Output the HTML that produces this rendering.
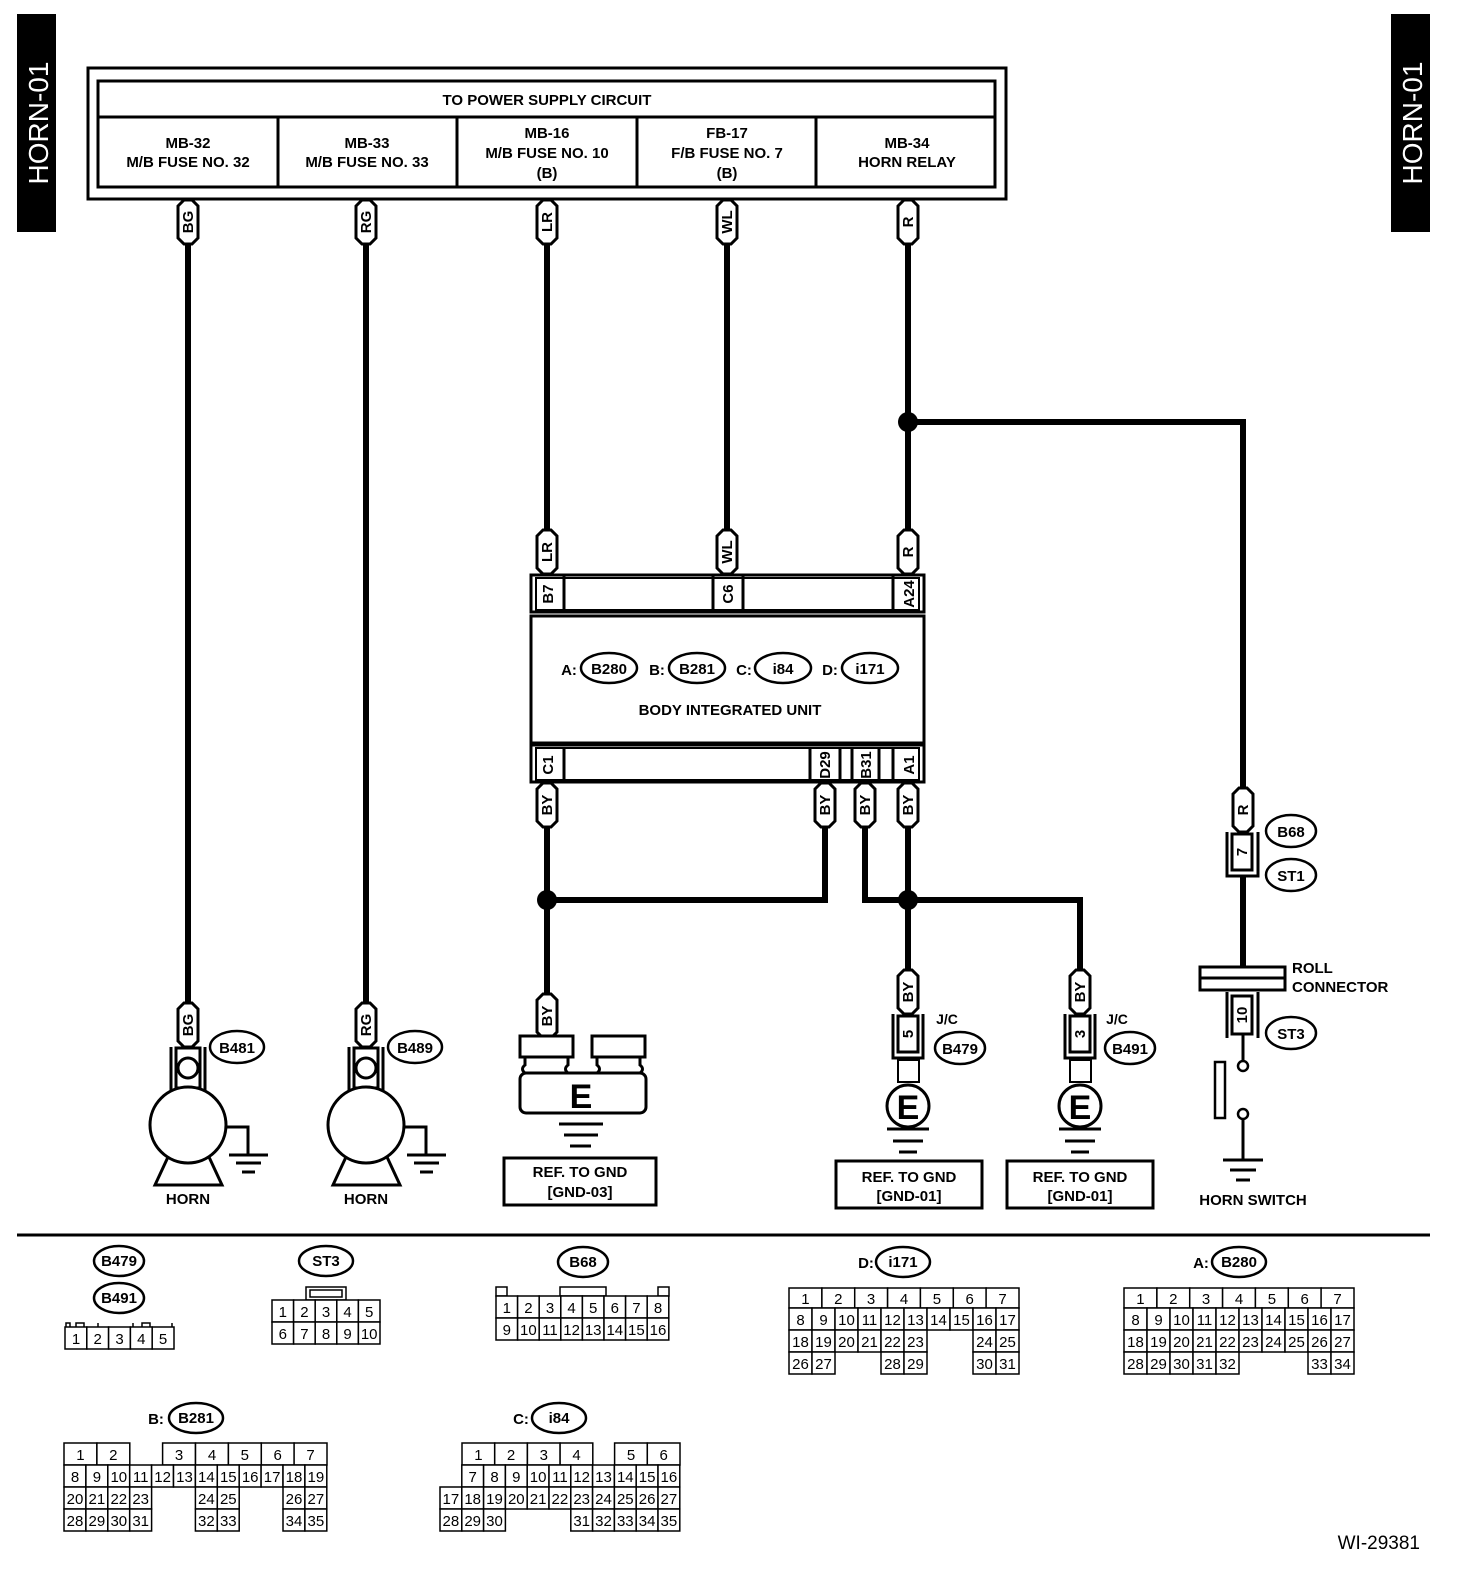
<!DOCTYPE html>
<html><head><meta charset="utf-8"><style>
html,body{margin:0;padding:0;background:#fff}
svg{display:block}
text{font-family:"Liberation Sans",sans-serif;font-weight:bold;fill:#000}
.t{font-size:15px;text-anchor:middle}
.w{stroke:#000;stroke-width:6;fill:none}
.l{stroke:#000;stroke-width:3;fill:none}
.p use{fill:#fff;stroke:#000;stroke-width:3}
.p text{font-size:15px;text-anchor:middle}
.c rect{fill:#fff;stroke:#000;stroke-width:1.5}
.c text{font-size:15px;font-weight:normal;text-anchor:middle}
.e{fill:#fff;stroke:#000;stroke-width:2.5}
</style></head><body>
<svg width="1472" height="1584" viewBox="0 0 1472 1584" xmlns="http://www.w3.org/2000/svg">
<defs>
<polygon id="pg" points="-10,-16 -4,-22 4,-22 10,-16 10,16 4,22 -4,22 -10,16"/>
</defs>
<!-- side tabs -->
<rect x="17" y="14" width="39" height="218" fill="#000"/>
<text transform="translate(48,123) rotate(-90)" style="font-size:28px;font-weight:normal;fill:#fff;text-anchor:middle">HORN-01</text>
<rect x="1391" y="14" width="39" height="218" fill="#000"/>
<text transform="translate(1422,123) rotate(-90)" style="font-size:28px;font-weight:normal;fill:#fff;text-anchor:middle">HORN-01</text>

<!-- header -->
<rect x="88" y="68" width="918" height="131" fill="#fff" stroke="#000" stroke-width="3"/>
<rect x="98" y="81" width="897" height="106" fill="#fff" stroke="#000" stroke-width="3"/>
<line class="l" x1="98" y1="117" x2="995" y2="117"/>
<line class="l" x1="278" y1="117" x2="278" y2="187"/>
<line class="l" x1="457" y1="117" x2="457" y2="187"/>
<line class="l" x1="637" y1="117" x2="637" y2="187"/>
<line class="l" x1="816" y1="117" x2="816" y2="187"/>
<text class="t" x="547" y="105">TO POWER SUPPLY CIRCUIT</text>
<text class="t" x="188" y="148">MB-32</text><text class="t" x="188" y="167">M/B FUSE NO. 32</text>
<text class="t" x="367" y="148">MB-33</text><text class="t" x="367" y="167">M/B FUSE NO. 33</text>
<text class="t" x="547" y="138">MB-16</text><text class="t" x="547" y="158">M/B FUSE NO. 10</text><text class="t" x="547" y="178">(B)</text>
<text class="t" x="727" y="138">FB-17</text><text class="t" x="727" y="158">F/B FUSE NO. 7</text><text class="t" x="727" y="178">(B)</text>
<text class="t" x="907" y="148">MB-34</text><text class="t" x="907" y="167">HORN RELAY</text>

<!-- wires -->
<path class="w" d="M188 199V1005"/>
<path class="w" d="M366 199V1005"/>
<path class="w" d="M547 199V575"/>
<path class="w" d="M727 199V575"/>
<path class="w" d="M908 199V575"/>
<path class="w" d="M908 422H1243V790"/>
<circle cx="908" cy="422" r="10"/>
<path class="w" d="M547 782V998"/>
<path class="w" d="M547 900H825V782"/>
<circle cx="547" cy="900" r="10"/>
<path class="w" d="M865 782V900H1080V972"/>
<path class="w" d="M908 782V972"/>
<circle cx="908" cy="900" r="10"/>
<path class="w" d="M1243 876V968"/>

<!-- pills top -->
<g class="p" transform="translate(188,222)"><use href="#pg"/><text transform="rotate(-90)" y="5">BG</text></g>
<g class="p" transform="translate(366,222)"><use href="#pg"/><text transform="rotate(-90)" y="5">RG</text></g>
<g class="p" transform="translate(547,222)"><use href="#pg"/><text transform="rotate(-90)" y="5">LR</text></g>
<g class="p" transform="translate(727,222)"><use href="#pg"/><text transform="rotate(-90)" y="5">WL</text></g>
<g class="p" transform="translate(908,222)"><use href="#pg"/><text transform="rotate(-90)" y="5">R</text></g>
<g class="p" transform="translate(547,552)"><use href="#pg"/><text transform="rotate(-90)" y="5">LR</text></g>
<g class="p" transform="translate(727,552)"><use href="#pg"/><text transform="rotate(-90)" y="5">WL</text></g>
<g class="p" transform="translate(908,552)"><use href="#pg"/><text transform="rotate(-90)" y="5">R</text></g>

<!-- BIU -->
<rect x="531" y="575" width="393" height="37" fill="#fff" stroke="#000" stroke-width="3"/>
<line class="l" x1="564" y1="575" x2="564" y2="612"/>
<line class="l" x1="713" y1="575" x2="713" y2="612"/><line class="l" x1="743" y1="575" x2="743" y2="612"/>
<line class="l" x1="893" y1="575" x2="893" y2="612"/>
<rect x="536" y="578" width="383" height="32" fill="none" stroke="#000" stroke-width="2"/>
<text class="t" transform="translate(553,594) rotate(-90)">B7</text>
<text class="t" transform="translate(733,594) rotate(-90)">C6</text>
<text class="t" transform="translate(914,594) rotate(-90)">A24</text>
<rect x="531" y="616" width="393" height="127" fill="#fff" stroke="#000" stroke-width="3"/>
<text class="t" x="569" y="675">A:</text>
<ellipse class="e" cx="609" cy="668" rx="28" ry="15"/><text class="t" x="609" y="674">B280</text>
<text class="t" x="657" y="675">B:</text>
<ellipse class="e" cx="697" cy="668" rx="28" ry="15"/><text class="t" x="697" y="674">B281</text>
<text class="t" x="744" y="675">C:</text>
<ellipse class="e" cx="783" cy="668" rx="28" ry="15"/><text class="t" x="783" y="674">i84</text>
<text class="t" x="830" y="675">D:</text>
<ellipse class="e" cx="870" cy="668" rx="28" ry="15"/><text class="t" x="870" y="674">i171</text>
<text class="t" x="730" y="715">BODY INTEGRATED UNIT</text>
<rect x="531" y="745" width="393" height="37" fill="#fff" stroke="#000" stroke-width="3"/>
<rect x="536" y="748" width="383" height="32" fill="none" stroke="#000" stroke-width="2"/>
<line class="l" x1="564" y1="748" x2="564" y2="782"/>
<line class="l" x1="810" y1="748" x2="810" y2="782"/><line class="l" x1="840" y1="748" x2="840" y2="782"/>
<line class="l" x1="852" y1="748" x2="852" y2="782"/><line class="l" x1="879" y1="748" x2="879" y2="782"/>
<line class="l" x1="893" y1="748" x2="893" y2="782"/>
<text class="t" transform="translate(553,765) rotate(-90)">C1</text>
<text class="t" transform="translate(830,765) rotate(-90)">D29</text>
<text class="t" transform="translate(871,765) rotate(-90)">B31</text>
<text class="t" transform="translate(914,765) rotate(-90)">A1</text>
<g class="p" transform="translate(547,805)"><use href="#pg"/><text transform="rotate(-90)" y="5">BY</text></g>
<g class="p" transform="translate(825,805)"><use href="#pg"/><text transform="rotate(-90)" y="5">BY</text></g>
<g class="p" transform="translate(865,805)"><use href="#pg"/><text transform="rotate(-90)" y="5">BY</text></g>
<g class="p" transform="translate(908,805)"><use href="#pg"/><text transform="rotate(-90)" y="5">BY</text></g>

<!-- horns -->
<g>
<path class="l" d="M171 1047V1100M205 1047V1100"/>
<rect x="176" y="1048" width="24" height="40" fill="#fff" stroke="#000" stroke-width="3"/>
<circle cx="188" cy="1068" r="10" fill="#fff" stroke="#000" stroke-width="3"/>
<circle cx="188" cy="1125" r="38" fill="#fff" stroke="#000" stroke-width="3"/>
<path class="l" d="M168 1157L155 1185H222L209 1157"/>
<path class="l" d="M225 1127H248V1155"/>
<path class="l" d="M229 1155H268M236 1163H261M242 1172H255"/>
</g>
<g class="p" transform="translate(188,1025)"><use href="#pg"/><text transform="rotate(-90)" y="5">BG</text></g>
<ellipse class="e" cx="237" cy="1047" rx="27" ry="16"/><text class="t" x="237" y="1053">B481</text>
<text class="t" x="188" y="1204">HORN</text>
<g transform="translate(178,0)">
<path class="l" d="M171 1047V1100M205 1047V1100"/>
<rect x="176" y="1048" width="24" height="40" fill="#fff" stroke="#000" stroke-width="3"/>
<circle cx="188" cy="1068" r="10" fill="#fff" stroke="#000" stroke-width="3"/>
<circle cx="188" cy="1125" r="38" fill="#fff" stroke="#000" stroke-width="3"/>
<path class="l" d="M168 1157L155 1185H222L209 1157"/>
<path class="l" d="M225 1127H248V1155"/>
<path class="l" d="M229 1155H268M236 1163H261M242 1172H255"/>
</g>
<g class="p" transform="translate(366,1025)"><use href="#pg"/><text transform="rotate(-90)" y="5">RG</text></g>
<ellipse class="e" cx="415" cy="1047" rx="27" ry="16"/><text class="t" x="415" y="1053">B489</text>
<text class="t" x="366" y="1204">HORN</text>

<!-- GND-03 -->
<g class="p" transform="translate(547,1016)"><use href="#pg"/><text transform="rotate(-90)" y="5">BY</text></g>
<rect x="520" y="1036" width="53" height="21" fill="#fff" stroke="#000" stroke-width="3"/>
<rect x="592" y="1036" width="53" height="21" fill="#fff" stroke="#000" stroke-width="3"/>
<path class="l" d="M525 1057v8q-5 4 0 8M568 1057v8q-5 4 0 8M597 1057v8q5 4 0 8M640 1057v8q5 4 0 8"/>
<rect x="520" y="1073" width="126" height="40" rx="6" fill="#fff" stroke="#000" stroke-width="3"/>
<text x="581" y="1108" style="font-size:34px;text-anchor:middle">E</text>
<path class="l" d="M559 1124H603M564 1135H598M570 1146H591"/>
<rect x="504" y="1158" width="152" height="47" fill="#fff" stroke="#000" stroke-width="3"/>
<text class="t" x="580" y="1177">REF. TO GND</text><text class="t" x="580" y="1197">[GND-03]</text>

<!-- J/C grounds -->
<g>
<g class="p" transform="translate(908,992)"><use href="#pg"/><text transform="rotate(-90)" y="5">BY</text></g>
<path class="l" d="M893 1014V1058H923V1014"/>
<rect x="898" y="1016" width="20" height="36" fill="#fff" stroke="#000" stroke-width="3"/>
<text class="t" transform="translate(913,1034) rotate(-90)">5</text>
<rect x="898" y="1060" width="21" height="22" fill="#fff" stroke="#000" stroke-width="2"/>
<circle cx="908" cy="1106" r="21" fill="#fff" stroke="#000" stroke-width="3"/>
<text x="908" y="1119" style="font-size:34px;text-anchor:middle">E</text>
<path class="l" d="M887 1129H929M893 1141H923M899 1152H917"/>
<text class="t" x="947" y="1024" style="font-size:14px">J/C</text>
<ellipse class="e" cx="960" cy="1048" rx="25" ry="16"/><text class="t" x="960" y="1054">B479</text>
<rect x="836" y="1161" width="146" height="47" fill="#fff" stroke="#000" stroke-width="3"/>
<text class="t" x="909" y="1182">REF. TO GND</text><text class="t" x="909" y="1201">[GND-01]</text>
</g>
<g>
<g class="p" transform="translate(1080,992)"><use href="#pg"/><text transform="rotate(-90)" y="5">BY</text></g>
<path class="l" d="M1065 1014V1058H1095V1014"/>
<rect x="1070" y="1016" width="20" height="36" fill="#fff" stroke="#000" stroke-width="3"/>
<text class="t" transform="translate(1085,1034) rotate(-90)">3</text>
<rect x="1070" y="1060" width="21" height="22" fill="#fff" stroke="#000" stroke-width="2"/>
<circle cx="1080" cy="1106" r="21" fill="#fff" stroke="#000" stroke-width="3"/>
<text x="1080" y="1119" style="font-size:34px;text-anchor:middle">E</text>
<path class="l" d="M1059 1129H1101M1065 1141H1095M1071 1152H1089"/>
<text class="t" x="1117" y="1024" style="font-size:14px">J/C</text>
<ellipse class="e" cx="1130" cy="1048" rx="25" ry="16"/><text class="t" x="1130" y="1054">B491</text>
<rect x="1007" y="1161" width="146" height="47" fill="#fff" stroke="#000" stroke-width="3"/>
<text class="t" x="1080" y="1182">REF. TO GND</text><text class="t" x="1080" y="1201">[GND-01]</text>
</g>

<!-- horn switch branch -->
<g class="p" transform="translate(1243,810)"><use href="#pg"/><text transform="rotate(-90)" y="5">R</text></g>
<path class="l" d="M1227 832V876H1258V832"/>
<rect x="1232" y="834" width="20" height="36" fill="#fff" stroke="#000" stroke-width="3"/>
<text class="t" transform="translate(1247,852) rotate(-90)">7</text>
<ellipse class="e" cx="1291" cy="831" rx="25" ry="16"/><text class="t" x="1291" y="837">B68</text>
<ellipse class="e" cx="1291" cy="875" rx="25" ry="16"/><text class="t" x="1291" y="881">ST1</text>
<rect x="1200" y="967" width="85" height="23" fill="#fff" stroke="#000" stroke-width="3"/>
<line class="l" x1="1200" y1="978" x2="1285" y2="978"/>
<text x="1292" y="973" style="font-size:15px">ROLL</text>
<text x="1292" y="992" style="font-size:15px">CONNECTOR</text>
<path class="l" d="M1227 992V1038M1258 992V1038"/>
<rect x="1232" y="996" width="20" height="38" fill="#fff" stroke="#000" stroke-width="3"/>
<text class="t" transform="translate(1247,1015) rotate(-90)">10</text>
<ellipse class="e" cx="1291" cy="1033" rx="25" ry="16"/><text class="t" x="1291" y="1039">ST3</text>
<path class="l" d="M1243 1034V1062"/>
<circle cx="1243" cy="1066" r="5" fill="#fff" stroke="#000" stroke-width="2.5"/>
<rect x="1215" y="1062" width="10" height="56" fill="#fff" stroke="#000" stroke-width="2.5"/>
<circle cx="1243" cy="1114" r="5" fill="#fff" stroke="#000" stroke-width="2.5"/>
<path class="l" d="M1243 1119V1160M1223 1160H1263M1230 1170H1256M1236 1180H1250"/>
<text class="t" x="1253" y="1205">HORN SWITCH</text>

<!-- separator -->
<line x1="17" y1="1235" x2="1430" y2="1235" stroke="#000" stroke-width="3"/>

<!-- B479/B491 -->
<ellipse class="e" cx="119" cy="1261" rx="25" ry="15"/><text class="t" x="119" y="1266">B479</text>
<ellipse class="e" cx="119" cy="1298" rx="25" ry="15"/><text class="t" x="119" y="1303">B491</text>
<g class="c">
<path d="M66 1327v-4h4v4M76 1327v-4h8v4M98 1327v-4M133 1327v-4M142 1327v-4h8v4M172 1327v-4" stroke="#000" fill="none" stroke-width="1.5"/>
<rect x="65" y="1327" width="21.8" height="22"/><rect x="86.8" y="1327" width="21.8" height="22"/><rect x="108.6" y="1327" width="21.8" height="22"/><rect x="130.4" y="1327" width="21.8" height="22"/><rect x="152.2" y="1327" width="21.8" height="22"/>
<text x="76" y="1344">1</text><text x="97.7" y="1344">2</text><text x="119.5" y="1344">3</text><text x="141.3" y="1344">4</text><text x="163.1" y="1344">5</text>
</g>

<!-- ST3 -->
<ellipse class="e" cx="326" cy="1261" rx="27" ry="15"/><text class="t" x="326" y="1266">ST3</text>
<g class="c">
<rect x="306" y="1287" width="40" height="13"/><rect x="310" y="1290" width="32" height="7"/>
<rect x="272" y="1300" width="21.6" height="22"/><rect x="293.6" y="1300" width="21.6" height="22"/><rect x="315.2" y="1300" width="21.6" height="22"/><rect x="336.8" y="1300" width="21.6" height="22"/><rect x="358.4" y="1300" width="21.6" height="22"/>
<rect x="272" y="1322" width="21.6" height="22"/><rect x="293.6" y="1322" width="21.6" height="22"/><rect x="315.2" y="1322" width="21.6" height="22"/><rect x="336.8" y="1322" width="21.6" height="22"/><rect x="358.4" y="1322" width="21.6" height="22"/>
<text x="282.8" y="1317">1</text><text x="304.4" y="1317">2</text><text x="326" y="1317">3</text><text x="347.6" y="1317">4</text><text x="369.2" y="1317">5</text>
<text x="282.8" y="1339">6</text><text x="304.4" y="1339">7</text><text x="326" y="1339">8</text><text x="347.6" y="1339">9</text><text x="369.2" y="1339">10</text>
</g>

<!-- B68 -->
<ellipse class="e" cx="583" cy="1262" rx="25" ry="15"/><text class="t" x="583" y="1267">B68</text>
<g class="c">
<rect x="496" y="1287" width="11" height="9"/><rect x="560" y="1287" width="46" height="9"/><rect x="658" y="1287" width="11" height="9"/>
<rect x="496" y="1296" width="21.6" height="22"/><rect x="517.6" y="1296" width="21.6" height="22"/><rect x="539.2" y="1296" width="21.6" height="22"/><rect x="560.8" y="1296" width="21.6" height="22"/><rect x="582.4" y="1296" width="21.6" height="22"/><rect x="604" y="1296" width="21.6" height="22"/><rect x="625.6" y="1296" width="21.6" height="22"/><rect x="647.2" y="1296" width="21.6" height="22"/>
<rect x="496" y="1318" width="21.6" height="22"/><rect x="517.6" y="1318" width="21.6" height="22"/><rect x="539.2" y="1318" width="21.6" height="22"/><rect x="560.8" y="1318" width="21.6" height="22"/><rect x="582.4" y="1318" width="21.6" height="22"/><rect x="604" y="1318" width="21.6" height="22"/><rect x="625.6" y="1318" width="21.6" height="22"/><rect x="647.2" y="1318" width="21.6" height="22"/>
<text x="506.8" y="1313">1</text><text x="528.4" y="1313">2</text><text x="550" y="1313">3</text><text x="571.6" y="1313">4</text><text x="593.2" y="1313">5</text><text x="614.8" y="1313">6</text><text x="636.4" y="1313">7</text><text x="658" y="1313">8</text>
<text x="506.8" y="1335">9</text><text x="528.4" y="1335">10</text><text x="550" y="1335">11</text><text x="571.6" y="1335">12</text><text x="593.2" y="1335">13</text><text x="614.8" y="1335">14</text><text x="636.4" y="1335">15</text><text x="658" y="1335">16</text>
</g>

<!-- D: i171 -->
<text class="t" x="866" y="1268">D:</text>
<ellipse class="e" cx="903" cy="1262" rx="27" ry="15"/><text class="t" x="903" y="1267">i171</text>
<g class="c">
<rect x="789" y="1288" width="32.9" height="20"/><rect x="821.9" y="1288" width="32.9" height="20"/><rect x="854.7" y="1288" width="32.9" height="20"/><rect x="887.6" y="1288" width="32.9" height="20"/><rect x="920.4" y="1288" width="32.9" height="20"/><rect x="953.3" y="1288" width="32.9" height="20"/><rect x="986.1" y="1288" width="32.9" height="20"/>
<text x="805.4" y="1304">1</text><text x="838.3" y="1304">2</text><text x="871.1" y="1304">3</text><text x="904" y="1304">4</text><text x="936.9" y="1304">5</text><text x="969.7" y="1304">6</text><text x="1002.6" y="1304">7</text>
<rect x="789" y="1308" width="23" height="22"/><rect x="812" y="1308" width="23" height="22"/><rect x="835" y="1308" width="23" height="22"/><rect x="858" y="1308" width="23" height="22"/><rect x="881" y="1308" width="23" height="22"/><rect x="904" y="1308" width="23" height="22"/><rect x="927" y="1308" width="23" height="22"/><rect x="950" y="1308" width="23" height="22"/><rect x="973" y="1308" width="23" height="22"/><rect x="996" y="1308" width="23" height="22"/>
<text x="800.5" y="1325">8</text><text x="823.5" y="1325">9</text><text x="846.5" y="1325">10</text><text x="869.5" y="1325">11</text><text x="892.5" y="1325">12</text><text x="915.5" y="1325">13</text><text x="938.5" y="1325">14</text><text x="961.5" y="1325">15</text><text x="984.5" y="1325">16</text><text x="1007.5" y="1325">17</text>
<rect x="789" y="1330" width="23" height="22"/><rect x="812" y="1330" width="23" height="22"/><rect x="835" y="1330" width="23" height="22"/><rect x="858" y="1330" width="23" height="22"/><rect x="881" y="1330" width="23" height="22"/><rect x="904" y="1330" width="23" height="22"/><rect x="973" y="1330" width="23" height="22"/><rect x="996" y="1330" width="23" height="22"/>
<text x="800.5" y="1347">18</text><text x="823.5" y="1347">19</text><text x="846.5" y="1347">20</text><text x="869.5" y="1347">21</text><text x="892.5" y="1347">22</text><text x="915.5" y="1347">23</text><text x="984.5" y="1347">24</text><text x="1007.5" y="1347">25</text>
<rect x="789" y="1352" width="23" height="22"/><rect x="812" y="1352" width="23" height="22"/><rect x="881" y="1352" width="23" height="22"/><rect x="904" y="1352" width="23" height="22"/><rect x="973" y="1352" width="23" height="22"/><rect x="996" y="1352" width="23" height="22"/>
<text x="800.5" y="1369">26</text><text x="823.5" y="1369">27</text><text x="892.5" y="1369">28</text><text x="915.5" y="1369">29</text><text x="984.5" y="1369">30</text><text x="1007.5" y="1369">31</text>
</g>

<!-- A: B280 -->
<text class="t" x="1201" y="1268">A:</text>
<ellipse class="e" cx="1239" cy="1262" rx="27" ry="15"/><text class="t" x="1239" y="1267">B280</text>
<g class="c">
<rect x="1124" y="1288" width="32.9" height="20"/><rect x="1156.9" y="1288" width="32.9" height="20"/><rect x="1189.7" y="1288" width="32.9" height="20"/><rect x="1222.6" y="1288" width="32.9" height="20"/><rect x="1255.4" y="1288" width="32.9" height="20"/><rect x="1288.3" y="1288" width="32.9" height="20"/><rect x="1321.1" y="1288" width="32.9" height="20"/>
<text x="1140.4" y="1304">1</text><text x="1173.3" y="1304">2</text><text x="1206.1" y="1304">3</text><text x="1239" y="1304">4</text><text x="1271.9" y="1304">5</text><text x="1304.7" y="1304">6</text><text x="1337.6" y="1304">7</text>
<rect x="1124" y="1308" width="23" height="22"/><rect x="1147" y="1308" width="23" height="22"/><rect x="1170" y="1308" width="23" height="22"/><rect x="1193" y="1308" width="23" height="22"/><rect x="1216" y="1308" width="23" height="22"/><rect x="1239" y="1308" width="23" height="22"/><rect x="1262" y="1308" width="23" height="22"/><rect x="1285" y="1308" width="23" height="22"/><rect x="1308" y="1308" width="23" height="22"/><rect x="1331" y="1308" width="23" height="22"/>
<text x="1135.5" y="1325">8</text><text x="1158.5" y="1325">9</text><text x="1181.5" y="1325">10</text><text x="1204.5" y="1325">11</text><text x="1227.5" y="1325">12</text><text x="1250.5" y="1325">13</text><text x="1273.5" y="1325">14</text><text x="1296.5" y="1325">15</text><text x="1319.5" y="1325">16</text><text x="1342.5" y="1325">17</text>
<rect x="1124" y="1330" width="23" height="22"/><rect x="1147" y="1330" width="23" height="22"/><rect x="1170" y="1330" width="23" height="22"/><rect x="1193" y="1330" width="23" height="22"/><rect x="1216" y="1330" width="23" height="22"/><rect x="1239" y="1330" width="23" height="22"/><rect x="1262" y="1330" width="23" height="22"/><rect x="1285" y="1330" width="23" height="22"/><rect x="1308" y="1330" width="23" height="22"/><rect x="1331" y="1330" width="23" height="22"/>
<text x="1135.5" y="1347">18</text><text x="1158.5" y="1347">19</text><text x="1181.5" y="1347">20</text><text x="1204.5" y="1347">21</text><text x="1227.5" y="1347">22</text><text x="1250.5" y="1347">23</text><text x="1273.5" y="1347">24</text><text x="1296.5" y="1347">25</text><text x="1319.5" y="1347">26</text><text x="1342.5" y="1347">27</text>
<rect x="1124" y="1352" width="23" height="22"/><rect x="1147" y="1352" width="23" height="22"/><rect x="1170" y="1352" width="23" height="22"/><rect x="1193" y="1352" width="23" height="22"/><rect x="1216" y="1352" width="23" height="22"/><rect x="1308" y="1352" width="23" height="22"/><rect x="1331" y="1352" width="23" height="22"/>
<text x="1135.5" y="1369">28</text><text x="1158.5" y="1369">29</text><text x="1181.5" y="1369">30</text><text x="1204.5" y="1369">31</text><text x="1227.5" y="1369">32</text><text x="1319.5" y="1369">33</text><text x="1342.5" y="1369">34</text>
</g>

<!-- B: B281 -->
<text class="t" x="156" y="1424">B:</text>
<ellipse class="e" cx="196" cy="1418" rx="27" ry="15"/><text class="t" x="196" y="1423">B281</text>
<g class="c">
<rect x="64" y="1443" width="32.9" height="22"/><rect x="96.9" y="1443" width="32.9" height="22"/><rect x="162.6" y="1443" width="32.9" height="22"/><rect x="195.5" y="1443" width="32.9" height="22"/><rect x="228.4" y="1443" width="32.9" height="22"/><rect x="261.3" y="1443" width="32.9" height="22"/><rect x="294.1" y="1443" width="32.9" height="22"/>
<text x="80.4" y="1460">1</text><text x="113.3" y="1460">2</text><text x="179" y="1460">3</text><text x="212" y="1460">4</text><text x="244.8" y="1460">5</text><text x="277.7" y="1460">6</text><text x="310.6" y="1460">7</text>
<rect x="64" y="1465" width="21.9" height="22"/><rect x="85.9" y="1465" width="21.9" height="22"/><rect x="107.8" y="1465" width="21.9" height="22"/><rect x="129.7" y="1465" width="21.9" height="22"/><rect x="151.6" y="1465" width="21.9" height="22"/><rect x="173.5" y="1465" width="21.9" height="22"/><rect x="195.4" y="1465" width="21.9" height="22"/><rect x="217.3" y="1465" width="21.9" height="22"/><rect x="239.2" y="1465" width="21.9" height="22"/><rect x="261.1" y="1465" width="21.9" height="22"/><rect x="283" y="1465" width="21.9" height="22"/><rect x="304.9" y="1465" width="21.9" height="22"/>
<text x="75" y="1482">8</text><text x="96.9" y="1482">9</text><text x="118.8" y="1482">10</text><text x="140.7" y="1482">11</text><text x="162.6" y="1482">12</text><text x="184.5" y="1482">13</text><text x="206.4" y="1482">14</text><text x="228.3" y="1482">15</text><text x="250.2" y="1482">16</text><text x="272.1" y="1482">17</text><text x="294" y="1482">18</text><text x="315.9" y="1482">19</text>
<rect x="64" y="1487" width="21.9" height="22"/><rect x="85.9" y="1487" width="21.9" height="22"/><rect x="107.8" y="1487" width="21.9" height="22"/><rect x="129.7" y="1487" width="21.9" height="22"/><rect x="195.4" y="1487" width="21.9" height="22"/><rect x="217.3" y="1487" width="21.9" height="22"/><rect x="283" y="1487" width="21.9" height="22"/><rect x="304.9" y="1487" width="21.9" height="22"/>
<text x="75" y="1504">20</text><text x="96.9" y="1504">21</text><text x="118.8" y="1504">22</text><text x="140.7" y="1504">23</text><text x="206.4" y="1504">24</text><text x="228.3" y="1504">25</text><text x="294" y="1504">26</text><text x="315.9" y="1504">27</text>
<rect x="64" y="1509" width="21.9" height="22"/><rect x="85.9" y="1509" width="21.9" height="22"/><rect x="107.8" y="1509" width="21.9" height="22"/><rect x="129.7" y="1509" width="21.9" height="22"/><rect x="195.4" y="1509" width="21.9" height="22"/><rect x="217.3" y="1509" width="21.9" height="22"/><rect x="283" y="1509" width="21.9" height="22"/><rect x="304.9" y="1509" width="21.9" height="22"/>
<text x="75" y="1526">28</text><text x="96.9" y="1526">29</text><text x="118.8" y="1526">30</text><text x="140.7" y="1526">31</text><text x="206.4" y="1526">32</text><text x="228.3" y="1526">33</text><text x="294" y="1526">34</text><text x="315.9" y="1526">35</text>
</g>

<!-- C: i84 -->
<text class="t" x="521" y="1424">C:</text>
<ellipse class="e" cx="559" cy="1418" rx="27" ry="15"/><text class="t" x="559" y="1423">i84</text>
<g class="c">
<rect x="462" y="1443" width="32.7" height="22"/><rect x="494.7" y="1443" width="32.7" height="22"/><rect x="527.4" y="1443" width="32.7" height="22"/><rect x="560.1" y="1443" width="32.7" height="22"/><rect x="614.6" y="1443" width="32.7" height="22"/><rect x="647.3" y="1443" width="32.7" height="22"/>
<text x="478.4" y="1460">1</text><text x="511" y="1460">2</text><text x="543.8" y="1460">3</text><text x="576.5" y="1460">4</text><text x="631" y="1460">5</text><text x="663.7" y="1460">6</text>
<rect x="461.8" y="1465" width="21.8" height="22"/><rect x="483.6" y="1465" width="21.8" height="22"/><rect x="505.4" y="1465" width="21.8" height="22"/><rect x="527.2" y="1465" width="21.8" height="22"/><rect x="549" y="1465" width="21.8" height="22"/><rect x="570.8" y="1465" width="21.8" height="22"/><rect x="592.6" y="1465" width="21.8" height="22"/><rect x="614.4" y="1465" width="21.8" height="22"/><rect x="636.2" y="1465" width="21.8" height="22"/><rect x="658" y="1465" width="21.8" height="22"/>
<text x="472.7" y="1482">7</text><text x="494.5" y="1482">8</text><text x="516.3" y="1482">9</text><text x="538.1" y="1482">10</text><text x="559.9" y="1482">11</text><text x="581.7" y="1482">12</text><text x="603.5" y="1482">13</text><text x="625.3" y="1482">14</text><text x="647.1" y="1482">15</text><text x="668.9" y="1482">16</text>
<rect x="440" y="1487" width="21.8" height="22"/><rect x="461.8" y="1487" width="21.8" height="22"/><rect x="483.6" y="1487" width="21.8" height="22"/><rect x="505.4" y="1487" width="21.8" height="22"/><rect x="527.2" y="1487" width="21.8" height="22"/><rect x="549" y="1487" width="21.8" height="22"/><rect x="570.8" y="1487" width="21.8" height="22"/><rect x="592.6" y="1487" width="21.8" height="22"/><rect x="614.4" y="1487" width="21.8" height="22"/><rect x="636.2" y="1487" width="21.8" height="22"/><rect x="658" y="1487" width="21.8" height="22"/>
<text x="450.9" y="1504">17</text><text x="472.7" y="1504">18</text><text x="494.5" y="1504">19</text><text x="516.3" y="1504">20</text><text x="538.1" y="1504">21</text><text x="559.9" y="1504">22</text><text x="581.7" y="1504">23</text><text x="603.5" y="1504">24</text><text x="625.3" y="1504">25</text><text x="647.1" y="1504">26</text><text x="668.9" y="1504">27</text>
<rect x="440" y="1509" width="21.8" height="22"/><rect x="461.8" y="1509" width="21.8" height="22"/><rect x="483.6" y="1509" width="21.8" height="22"/><rect x="570.8" y="1509" width="21.8" height="22"/><rect x="592.6" y="1509" width="21.8" height="22"/><rect x="614.4" y="1509" width="21.8" height="22"/><rect x="636.2" y="1509" width="21.8" height="22"/><rect x="658" y="1509" width="21.8" height="22"/>
<text x="450.9" y="1526">28</text><text x="472.7" y="1526">29</text><text x="494.5" y="1526">30</text><text x="581.7" y="1526">31</text><text x="603.5" y="1526">32</text><text x="625.3" y="1526">33</text><text x="647.1" y="1526">34</text><text x="668.9" y="1526">35</text>
</g>

<text x="1420" y="1549" style="font-size:19px;font-weight:normal;text-anchor:end">WI-29381</text>
</svg>
</body></html>
